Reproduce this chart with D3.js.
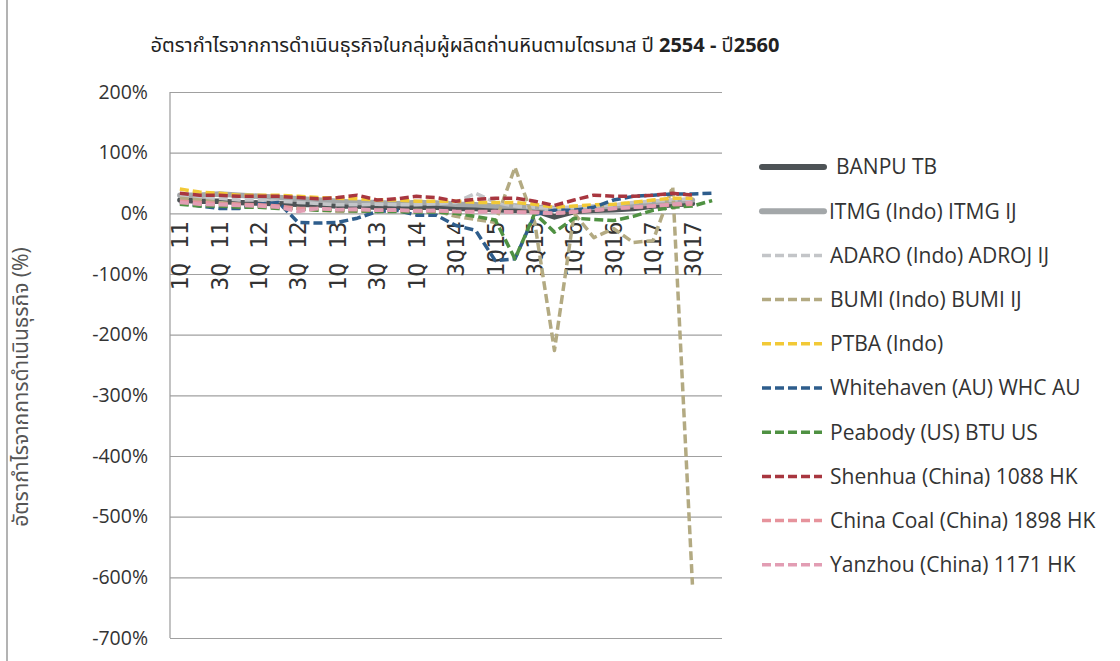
<!DOCTYPE html>
<html>
<head>
<meta charset="utf-8">
<script src="https://cdn.jsdelivr.net/npm/d3@7"></script>
<style>
  body { margin: 0; background: #fff; }
  svg { display: block; }
</style>
</head>
<body>
<svg id="chart" width="1120" height="661"></svg>
<script>
// quarters 1Q11 .. 4Q17 (labels written as on the original axis)
const categories = [
  "1Q 11","2Q 11","3Q 11","4Q 11","1Q 12","2Q 12","3Q 12","4Q 12",
  "1Q 13","2Q 13","3Q 13","4Q 13","1Q 14","2Q 14","3Q14","4Q14",
  "1Q15","2Q15","3Q15","4Q15","1Q16","2Q16","3Q16","4Q16",
  "1Q17","2Q17","3Q17","4Q17"
];

const yTicks = [200, 100, 0, -100, -200, -300, -400, -500, -600, -700];

// operating margin, %
const banpu   = [22,20,20,18,17,16,15,14,12,12,10,10,10,10,8,8,6,5,5,-6,3,5,6,8,12,14,16,null];
const itmg    = [30,30,32,30,28,26,24,22,20,18,18,16,18,17,15,14,12,12,10,8,8,10,12,14,18,20,22,null];
const adaro   = [28,25,25,22,22,20,18,16,14,14,15,14,14,16,18,33,18,12,10,8,10,12,14,18,20,22,24,null];
const bumi    = [25,22,18,15,12,10,8,5,3,3,5,4,5,4,-5,-10,-15,76,-15,-226,0,-40,-25,-48,-45,44,-612,null];
const ptba    = [40,35,33,30,30,30,28,26,25,24,22,22,20,20,20,18,18,18,15,10,12,14,15,18,22,25,25,null];
const whc     = [18,12,8,8,15,18,-15,-16,-15,-8,3,5,-3,-3,-20,-28,-78,-75,-2,5,5,10,22,28,30,32,32,33];
const btu     = [15,12,12,10,10,8,8,5,5,4,3,3,2,2,0,-5,-11,-75,0,-31,-8,-10,-12,-5,5,10,12,21];
const shenhua = [33,30,30,28,28,28,26,24,26,30,22,24,28,26,20,23,25,25,20,13,22,30,28,28,30,33,30,null];
const chinaCoal = [20,18,16,15,14,12,8,8,6,6,5,5,4,4,3,3,3,2,2,0,3,5,8,10,12,14,15,null];
const yanzhou = [18,15,14,13,12,10,3,8,6,7,5,6,4,5,3,2,3,2,1,0,2,5,8,10,12,15,18,null];

const series = [
  { name: "BANPU TB",                 values: banpu,     color: "#4d5356", width: 5.5, dash: null },
  { name: "ITMG (Indo) ITMG IJ",      values: itmg,      color: "#a3a7a9", width: 5.5, dash: null },
  { name: "ADARO (Indo) ADROJ IJ",    values: adaro,     color: "#c3c5c8", width: 3.5, dash: "9,4" },
  { name: "BUMI (Indo) BUMI IJ",      values: bumi,      color: "#b3aa82", width: 3.5, dash: "9,4" },
  { name: "PTBA (Indo)",              values: ptba,      color: "#f2c936", width: 3.5, dash: "9,4" },
  { name: "Whitehaven (AU) WHC AU",   values: whc,       color: "#2e5d8c", width: 3.5, dash: "9,4" },
  { name: "Peabody (US) BTU US",      values: btu,       color: "#4f9142", width: 3.5, dash: "9,4" },
  { name: "Shenhua (China) 1088 HK",  values: shenhua,   color: "#a8363f", width: 3.5, dash: "9,4" },
  { name: "China Coal (China) 1898 HK", values: chinaCoal, color: "#e6939c", width: 3.5, dash: "9,4" },
  { name: "Yanzhou (China) 1171 HK",  values: yanzhou,   color: "#e29db3", width: 3.5, dash: "9,4" }
];

const svg = d3.select("#chart");
const plotLeft = 170, plotRight = 722, plotTop = 92, plotBottom = 638;

const x = d3.scaleBand().domain(categories).range([plotLeft, plotRight]);
const cx = (c) => x(c) + x.bandwidth() / 2;
const y = d3.scaleLinear().domain([-700, 200]).range([plotBottom, plotTop]);

// chart frame edge from the scan
svg.append("line")
  .attr("x1", 7).attr("x2", 7).attr("y1", 0).attr("y2", 661)
  .attr("stroke", "#9a9a9a").attr("stroke-width", 1.5);

// gridlines
svg.append("g")
  .attr("transform", `translate(${plotLeft},0)`)
  .call(d3.axisLeft(y).tickValues(yTicks).tickSize(-(plotRight - plotLeft)).tickFormat(""))
  .call(g => g.select(".domain").remove())
  .call(g => g.selectAll("line").attr("stroke", "#a0a0a0").attr("stroke-width", 1.2));

// left axis line
svg.append("line")
  .attr("x1", plotLeft).attr("x2", plotLeft).attr("y1", plotTop).attr("y2", plotBottom)
  .attr("stroke", "#9a9a9a").attr("stroke-width", 1.2);

// y tick labels
svg.append("g")
  .attr("transform", `translate(${plotLeft - 22},0)`)
  .call(d3.axisLeft(y).tickValues(yTicks).tickSize(0).tickFormat(d => d + "%"))
  .call(g => g.select(".domain").remove())
  .call(g => g.selectAll("text")
    .attr("x", 0)
    .attr("fill", "#333")
    .style("font-family", "'Open Sans', 'Liberation Sans', sans-serif")
    .style("font-size", "19.5px"));

// x labels (every other quarter), sitting under the 0% line
svg.append("g")
  .attr("transform", `translate(0,${y(0)})`)
  .call(d3.axisBottom(x).tickValues(categories.filter((d, i) => i % 2 === 0)).tickSize(0))
  .call(g => g.select(".domain").remove())
  .call(g => g.selectAll("text")
    .attr("transform", "rotate(-90)")
    .attr("x", -8).attr("y", 0).attr("dy", "0.36em")
    .attr("text-anchor", "end")
    .attr("fill", "#333")
    .style("font-family", "'DejaVu Sans Mono', monospace")
    .style("font-size", "23px"));

// lines
const line = d3.line()
  .defined(d => d.v !== null)
  .x(d => cx(d.c))
  .y(d => y(d.v));

svg.append("g").selectAll("path")
  .data(series)
  .join("path")
  .attr("d", s => line(s.values.map((v, i) => ({ c: categories[i], v }))))
  .attr("fill", "none")
  .attr("stroke", s => s.color)
  .attr("stroke-width", s => s.width)
  .attr("stroke-dasharray", s => s.dash)
  .attr("stroke-linejoin", "round")
  .attr("stroke-linecap", s => s.dash ? "butt" : "round");

// legend
const legend = svg.append("g").selectAll("g")
  .data(series)
  .join("g")
  .attr("transform", (d, i) => `translate(762,${167 + i * 44.2})`);

legend.append("line")
  .attr("x1", 0).attr("x2", d => d.dash ? 60 : 62)
  .attr("stroke", d => d.color)
  .attr("stroke-width", d => d.dash ? 3.5 : 6)
  .attr("stroke-dasharray", d => d.dash)
  .attr("stroke-linecap", d => d.dash ? "butt" : "round");

legend.append("text")
  .attr("x", d => d.dash ? 68 : (d.name === "BANPU TB" ? 74 : 67))
  .attr("dy", "0.35em")
  .attr("fill", "#333")
  .style("font-family", "'Open Sans', 'Liberation Sans', sans-serif")
  .style("font-size", "21px")
  .text(d => d.name);

// title
const title = svg.append("text")
  .attr("x", 465).attr("y", 52)
  .attr("text-anchor", "middle")
  .attr("fill", "#222")
  .style("font-family", "'Noto Sans Thai', Tahoma, 'Noto Sans', sans-serif")
  .style("font-size", "20px");
title.append("tspan").text("อัตรากำไรจากการดำเนินธุรกิจในกลุ่มผู้ผลิตถ่านหินตามไตรมาส  ปี ");
title.append("tspan").attr("font-weight", "bold").text("2554 - ");
title.append("tspan").text("ปี");
title.append("tspan").attr("font-weight", "bold").text("2560");

// y-axis title
svg.append("text")
  .attr("transform", "translate(28,387) rotate(-90)")
  .attr("text-anchor", "middle")
  .attr("fill", "#555")
  .style("font-family", "'Noto Sans Thai', Tahoma, 'Noto Sans', sans-serif")
  .style("font-size", "21px")
  .text("อัตรากำไรจากการดำเนินธุรกิจ (%)");
</script>
</body>
</html>
